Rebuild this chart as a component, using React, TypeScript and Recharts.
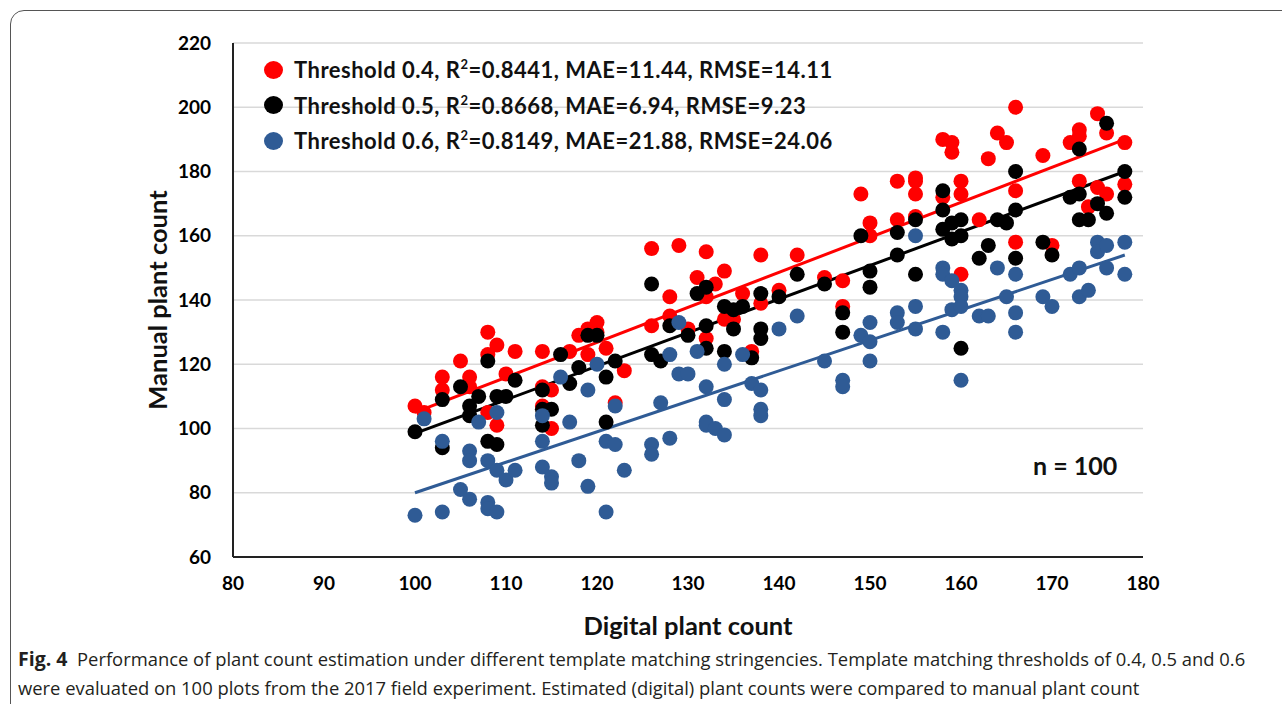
import { ScatterChart, Scatter, XAxis, YAxis, CartesianGrid, ReferenceLine } from "recharts";

// [digital, manual] pairs
const threshold04: number[][] = [
  [100, 107], [101, 105], [103, 116], [103, 112], [105, 121], [106, 116], [106, 113],
  [108, 130], [108, 123], [108, 105], [109, 126], [109, 101], [110, 117], [111, 124],
  [114, 124], [114, 113], [114, 107], [115, 100], [115, 112], [117, 124], [118, 129],
  [119, 131], [119, 123], [120, 133], [120, 130], [121, 125], [122, 108], [123, 118],
  [126, 156], [126, 132], [128, 141], [128, 135], [129, 157], [130, 131], [131, 147],
  [132, 155], [132, 141], [132, 128], [133, 145], [134, 149], [134, 134], [135, 134],
  [136, 142], [137, 124], [138, 154], [138, 139], [140, 143], [142, 154], [145, 147],
  [147, 146], [147, 138], [149, 173], [150, 164], [150, 160], [153, 177], [153, 165],
  [155, 178], [155, 177], [155, 173], [155, 166], [158, 190], [158, 172], [159, 189],
  [159, 186], [160, 177], [160, 173], [160, 148], [162, 165], [163, 184], [164, 192],
  [165, 189], [166, 200], [166, 174], [166, 158], [169, 185], [170, 157], [172, 189],
  [173, 193], [173, 191], [173, 177], [174, 169], [175, 198], [175, 175], [176, 192],
  [176, 173], [178, 189], [178, 176],
];

const threshold05: number[][] = [
  [100, 99], [103, 94], [103, 109], [105, 113], [106, 107], [106, 104], [107, 110],
  [108, 121], [108, 96], [109, 110], [109, 95], [110, 110], [111, 115], [114, 112],
  [114, 106], [114, 101], [115, 106], [116, 123], [117, 114], [118, 119], [119, 129],
  [120, 129], [121, 102], [121, 116], [122, 121], [126, 145], [126, 123], [127, 121],
  [128, 132], [130, 129], [131, 142], [132, 144], [132, 132], [132, 125], [134, 138],
  [134, 124], [135, 131], [135, 137], [136, 138], [137, 122], [138, 142], [138, 131],
  [138, 128], [140, 141], [142, 148], [145, 145], [147, 136], [147, 130], [149, 160],
  [150, 149], [150, 144], [153, 161], [153, 154], [155, 165], [155, 148], [158, 174],
  [158, 168], [158, 162], [159, 164], [159, 159], [160, 165], [160, 160], [160, 125],
  [162, 153], [163, 157], [164, 165], [165, 164], [166, 180], [166, 168], [166, 153],
  [169, 158], [170, 154], [172, 172], [173, 187], [173, 173], [173, 165], [174, 165],
  [175, 170], [176, 195], [176, 167], [178, 180], [178, 172],
];

const threshold06: number[][] = [
  [100, 73], [101, 103], [103, 96], [103, 74], [105, 81], [106, 93], [106, 90], [106, 78],
  [107, 102], [108, 90], [108, 77], [108, 75], [109, 105], [109, 87], [109, 74], [110, 84],
  [111, 87], [114, 104], [114, 96], [114, 88], [115, 85], [115, 83], [116, 116], [117, 102],
  [118, 90], [119, 112], [119, 82], [120, 120], [121, 96], [121, 74], [122, 107], [122, 95],
  [123, 87], [126, 95], [126, 92], [127, 108], [128, 123], [128, 97], [129, 133], [129, 117],
  [130, 117], [131, 124], [132, 113], [132, 102], [132, 101], [133, 100], [134, 120],
  [134, 109], [134, 98], [136, 123], [137, 114], [138, 112], [138, 106], [138, 104],
  [140, 131], [142, 135], [145, 121], [147, 115], [147, 113], [149, 129], [150, 133],
  [150, 127], [150, 121], [153, 136], [153, 133], [155, 160], [155, 138], [155, 131],
  [158, 150], [158, 148], [158, 130], [159, 146], [159, 137], [160, 143], [160, 141],
  [160, 138], [160, 115], [162, 135], [163, 135], [164, 150], [165, 141], [166, 148],
  [166, 136], [166, 130], [169, 141], [170, 138], [172, 148], [173, 150], [173, 141],
  [174, 143], [175, 158], [175, 155], [176, 157], [176, 150], [178, 158], [178, 148],
];

// linear fits: [xStart, yStart, xEnd, yEnd]
const fit04 = [100, 105, 178, 190];
const fit05 = [100, 98.5, 178, 180];
const fit06 = [100, 80, 178, 154];

const xTicks = [80, 90, 100, 110, 120, 130, 140, 150, 160, 170, 180];
const yTicks = [60, 80, 100, 120, 140, 160, 180, 200, 220];

const series = [
  { name: "Threshold 0.4", r2: "0.8441", mae: "11.44", rmse: "14.11", color: "#ff0000", data: threshold04, fit: fit04 },
  { name: "Threshold 0.5", r2: "0.8668", mae: "6.94", rmse: "9.23", color: "#000000", data: threshold05, fit: fit05 },
  { name: "Threshold 0.6", r2: "0.8149", mae: "21.88", rmse: "24.06", color: "#2f5b95", data: threshold06, fit: fit06 },
];

const FONT = "Lato, 'Open Sans', sans-serif";
const tickStyle = { fontSize: 19, fontWeight: 700, fill: "#000", fontFamily: FONT };

const dot = (color: string) => (props: any) =>
  <circle cx={props.cx} cy={props.cy} r={7.5} fill={color} />;

export default function App() {
  return (
    <div style={{ position: "absolute", left: 0, top: 0, width: 1282, height: 704, overflow: "hidden", background: "#fff" }}>
      <div style={{
        position: "absolute", left: 10, top: 10, width: 1300, height: 740,
        border: "1.5px solid #555", borderRadius: 14,
      }} />

      <div style={{ position: "absolute", left: 0, top: 0 }}>
        <ScatterChart width={1282} height={600} margin={{ top: 43, right: 139, bottom: 3, left: 173 }}>
          <CartesianGrid vertical={false} stroke="#d9d9d9" strokeWidth={1.5} />
          <XAxis
            type="number" dataKey="x" domain={[80, 180]} ticks={xTicks}
            height={40} tick={tickStyle} tickLine={false} tickSize={0} tickMargin={20}
            axisLine={{ stroke: "#222", strokeWidth: 2 }}
          />
          <YAxis
            type="number" dataKey="y" domain={[60, 220]} ticks={yTicks}
            width={60} tick={tickStyle} tickLine={false} tickSize={0} tickMargin={22}
            axisLine={{ stroke: "#222", strokeWidth: 2 }}
          />
          {series.map((s) => (
            <Scatter
              key={s.name}
              name={s.name}
              data={s.data.map(([x, y]) => ({ x, y }))}
              fill={s.color}
              shape={dot(s.color)}
              isAnimationActive={false}
            />
          ))}
          {series.map((s) => (
            <ReferenceLine
              key={s.name + "-fit"}
              segment={[{ x: s.fit[0], y: s.fit[1] }, { x: s.fit[2], y: s.fit[3] }]}
              stroke={s.color}
              strokeWidth={3}
              ifOverflow="visible"
            />
          ))}
        </ScatterChart>
      </div>

      {/* legend */}
      <div style={{ position: "absolute", left: 264, top: 52, fontFamily: FONT, fontWeight: 700, fontSize: 22, letterSpacing: 0.5, color: "#111" }}>
        {series.map((s) => (
          <div key={s.name} style={{ display: "flex", alignItems: "center", height: 35.5 }}>
            <span style={{ display: "inline-block", width: 19, height: 18, borderRadius: "50%", background: s.color, marginRight: 11 }} />
            <span>
              {s.name}, R<sup style={{ fontSize: 13, verticalAlign: 9, lineHeight: 0 }}>2</sup>={s.r2}, MAE={s.mae}, RMSE={s.rmse}
            </span>
          </div>
        ))}
      </div>

      <div style={{ position: "absolute", left: 1033, top: 450, fontFamily: FONT, fontWeight: 700, fontSize: 25, color: "#111" }}>
        n = 100
      </div>

      {/* axis titles */}
      <div style={{
        position: "absolute", left: 157, top: 300, transform: "translate(-50%, -50%) rotate(-90deg)",
        fontFamily: FONT, fontWeight: 700, fontSize: 25.5, color: "#111", whiteSpace: "nowrap",
      }}>
        Manual plant count
      </div>
      <div style={{
        position: "absolute", left: 688, top: 625, transform: "translate(-50%, -50%)",
        fontFamily: FONT, fontWeight: 700, fontSize: 25.5, color: "#111", whiteSpace: "nowrap",
      }}>
        Digital plant count
      </div>

      {/* caption */}
      <div style={{
        position: "absolute", left: 18, top: 644, width: 1262, fontFamily: "'Open Sans', sans-serif",
        fontSize: 18.4, lineHeight: "29px", color: "#231f20", whiteSpace: "nowrap",
      }}>
        <div><b style={{ fontSize: 19.5 }}>Fig. 4</b>&nbsp;&nbsp;Performance of plant count estimation under different template matching stringencies. Template matching thresholds of 0.4, 0.5 and 0.6</div>
        <div>were evaluated on 100 plots from the 2017 field experiment. Estimated (digital) plant counts were compared to manual plant count</div>
      </div>
    </div>
  );
}
